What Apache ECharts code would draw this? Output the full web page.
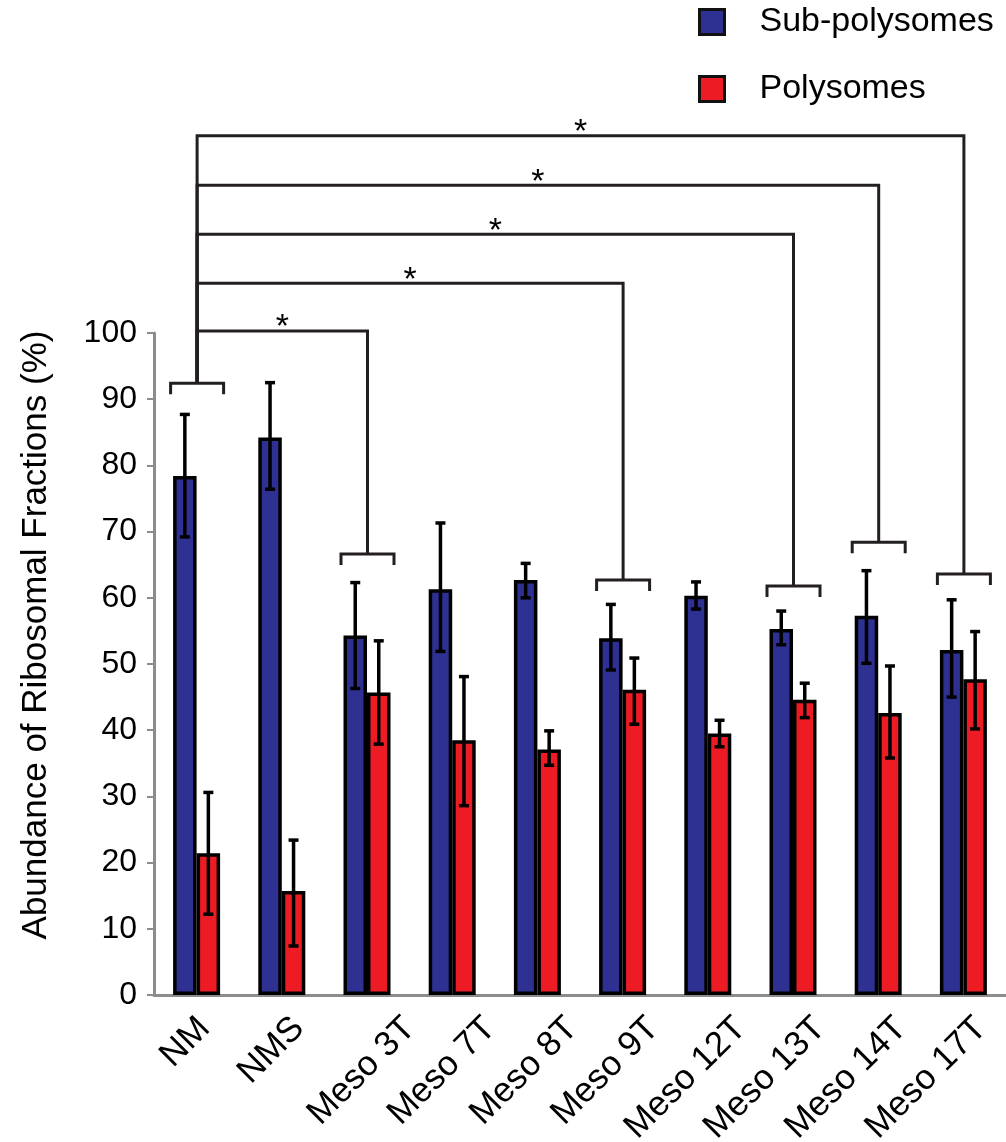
<!DOCTYPE html>
<html>
<head>
<meta charset="utf-8">
<script src="https://cdn.jsdelivr.net/npm/echarts@6/dist/echarts.min.js"></script>
<style>
html,body{margin:0;padding:0;background:#fff;}
#chart{width:1006px;height:1142px;}
</style>
</head>
<body>
<div id="chart"></div>
<script>
// ---- data ----
const categories = ['NM','NMS','Meso 3T','Meso 7T','Meso 8T','Meso 9T','Meso 12T','Meso 13T','Meso 14T','Meso 17T'];
const subPolysomes      = [78.4, 84.2, 54.3, 61.3, 62.7, 53.9, 60.3, 55.3, 57.3, 52.1];
const subPolysomesHigh  = [87.7, 92.5, 62.3, 71.3, 65.2, 59.0, 62.4, 58.0, 64.1, 59.7];
const subPolysomesLow   = [69.2, 76.4, 46.3, 51.9, 60.0, 49.1, 58.3, 52.9, 50.1, 45.0];
const polysomes         = [21.4, 15.7, 45.7, 38.5, 37.1, 46.1, 39.5, 44.6, 42.6, 47.7];
const polysomesHigh     = [30.6, 23.4, 53.5, 48.1, 39.9, 50.9, 41.5, 47.1, 49.7, 54.9];
const polysomesLow      = [12.2,  7.4, 37.9, 28.6, 34.7, 40.9, 37.5, 41.9, 35.8, 40.2];
const yTicks = [0,10,20,30,40,50,60,70,80,90,100];

// significance brackets (category index, bracket height)
const bracketCats   = [0, 2, 5, 7, 8, 9];
const bracketLevels = [92.4, 66.6, 62.7, 61.8, 68.4, 63.6];
// comparisons against reference category
const compRef     = 0;
const compTargets = [2, 5, 7, 8, 9];
const compLevels  = [100.3, 107.5, 114.9, 122.3, 129.8];
const compLabels  = ['*','*','*','*','*'];

// ---- style constants ----
const FONT = '"Liberation Sans", Arial, Helvetica, sans-serif';
const BAR_W = 23.5;
const BLUE = '#2E3192';
const RED = '#ED1C24';
const LINE_DARK = '#231F20';
// horizontal nudge of each rotated category label (as placed in the original figure)
const xLabelNudge = [8, 17, 43, 38, 35, 31, 33, 27, 23, 18];
const X_LABEL_DROP = 28;

const bracketLevelOf = {};
bracketCats.forEach((c, i) => { bracketLevelOf[c] = bracketLevels[i]; });

function errRender(offset) {
  return function (params, api) {
    const lo = api.coord([api.value(0), api.value(1)]);
    const hi = api.coord([api.value(0), api.value(2)]);
    const x = lo[0] + offset;
    const cap = 5;
    const st = { stroke: '#000', lineWidth: 3.5, fill: null };
    return {
      type: 'group',
      children: [
        { type: 'line', shape: { x1: x, y1: lo[1], x2: x, y2: hi[1] }, style: st },
        { type: 'line', shape: { x1: x - cap, y1: hi[1], x2: x + cap, y2: hi[1] }, style: st },
        { type: 'line', shape: { x1: x - cap, y1: lo[1], x2: x + cap, y2: lo[1] }, style: st }
      ]
    };
  };
}

const option = {
  animation: false,
  textStyle: { fontFamily: FONT },
  grid: { left: 154, top: 333, width: 856, height: 662, containLabel: false },
  legend: {
    orient: 'vertical',
    left: 698, top: 4,
    padding: 0,
    itemWidth: 25, itemHeight: 25,
    itemGap: 31,
    icon: 'rect',
    itemStyle: { borderColor: '#111', borderWidth: 3 },
    textStyle: { fontSize: 34, fontFamily: FONT, color: '#000', lineHeight: 34, padding: [2, 0, 0, 30] },
    data: ['Sub-polysomes', 'Polysomes']
  },
  xAxis: {
    type: 'category',
    data: categories,
    axisLine: { lineStyle: { color: '#8c8c8c', width: 3 } },
    axisTick: { show: false },
    axisLabel: { show: false }
  },
  yAxis: {
    type: 'value', min: 0, max: 100, interval: 10,
    name: 'Abundance of Ribosomal Fractions (%)',
    nameLocation: 'middle', nameGap: 100, nameRotate: 90,
    nameTextStyle: { fontSize: 35, color: '#000', fontFamily: FONT, padding: [0, 0, 0, 58] },
    axisLine: { show: true, lineStyle: { color: '#8c8c8c', width: 3 } },
    axisTick: { show: true, length: 7, lineStyle: { color: '#8c8c8c', width: 2 } },
    splitLine: { show: false },
    axisLabel: { fontSize: 32, color: '#000', fontFamily: FONT, margin: 17,
      formatter: v => (yTicks.indexOf(v) >= 0 ? String(v) : '') }
  },
  series: [
    {
      name: 'Sub-polysomes', type: 'bar', data: subPolysomes, barWidth: BAR_W, barGap: '0%',
      itemStyle: { color: BLUE, borderColor: '#000', borderWidth: 3.5 }, z: 2
    },
    {
      name: 'Polysomes', type: 'bar', data: polysomes, barWidth: BAR_W, barGap: '0%',
      itemStyle: { color: RED, borderColor: '#000', borderWidth: 3.5 }, z: 2
    },
    {
      type: 'custom', name: 'errSub', z: 5,
      data: categories.map((c, i) => [i, subPolysomesLow[i], subPolysomesHigh[i]]),
      renderItem: errRender(-BAR_W / 2)
    },
    {
      type: 'custom', name: 'errPoly', z: 5,
      data: categories.map((c, i) => [i, polysomesLow[i], polysomesHigh[i]]),
      renderItem: errRender(BAR_W / 2)
    },
    {
      type: 'custom', name: 'brackets', z: 4, clip: false,
      data: bracketCats.map((c, i) => [c, bracketLevels[i]]),
      renderItem: function (params, api) {
        const p = api.coord([api.value(0), api.value(1)]);
        const x = p[0] + 0.5, y = p[1];
        return {
          type: 'polyline',
          shape: { points: [[x - 26.5, y + 11], [x - 26.5, y], [x + 26.5, y], [x + 26.5, y + 11]] },
          style: { stroke: LINE_DARK, lineWidth: 3, fill: null }
        };
      }
    },
    {
      type: 'custom', name: 'comparisons', z: 4, clip: false,
      data: compTargets.map((t, i) => [t, compLevels[i], bracketLevelOf[t], bracketLevelOf[compRef]]),
      renderItem: function (params, api) {
        const t = api.value(0), lev = api.value(1);
        const pT = api.coord([t, lev]);
        const pR = api.coord([compRef, lev]);
        const pTB = api.coord([t, api.value(2)]);
        const pRB = api.coord([compRef, api.value(3)]);
        const xr = pR[0] + 0.5, xt = pT[0] + 0.5;
        return {
          type: 'group',
          children: [
            {
              type: 'polyline',
              shape: { points: [[xr, pRB[1]], [xr, pT[1]], [xt, pT[1]], [xt, pTB[1]]] },
              style: { stroke: LINE_DARK, lineWidth: 3, fill: null }
            },
            {
              type: 'text',
              style: {
                text: compLabels[params.dataIndex],
                x: (xr + xt) / 2, y: pT[1] - 3,
                align: 'center', verticalAlign: 'middle',
                fontSize: 34, fontFamily: FONT, fill: '#000'
              }
            }
          ]
        };
      }
    },
    {
      // rotated category labels under the x axis
      type: 'custom', name: 'xLabels', z: 6, clip: false, silent: true,
      data: categories.map((c, i) => [i, 0]),
      renderItem: function (params, api) {
        const i = params.dataIndex;
        const p = api.coord([api.value(0), api.value(1)]);
        return {
          type: 'text',
          x: p[0] + xLabelNudge[i],
          y: p[1] + X_LABEL_DROP,
          rotation: Math.PI / 4,
          style: {
            text: categories[i],
            align: 'right', verticalAlign: 'middle',
            fontSize: 35, fontFamily: FONT, fill: '#000'
          }
        };
      }
    }
  ]
};

const chart = echarts.init(document.getElementById('chart'), null, { renderer: 'canvas' });
chart.setOption(option);
</script>
</body>
</html>
